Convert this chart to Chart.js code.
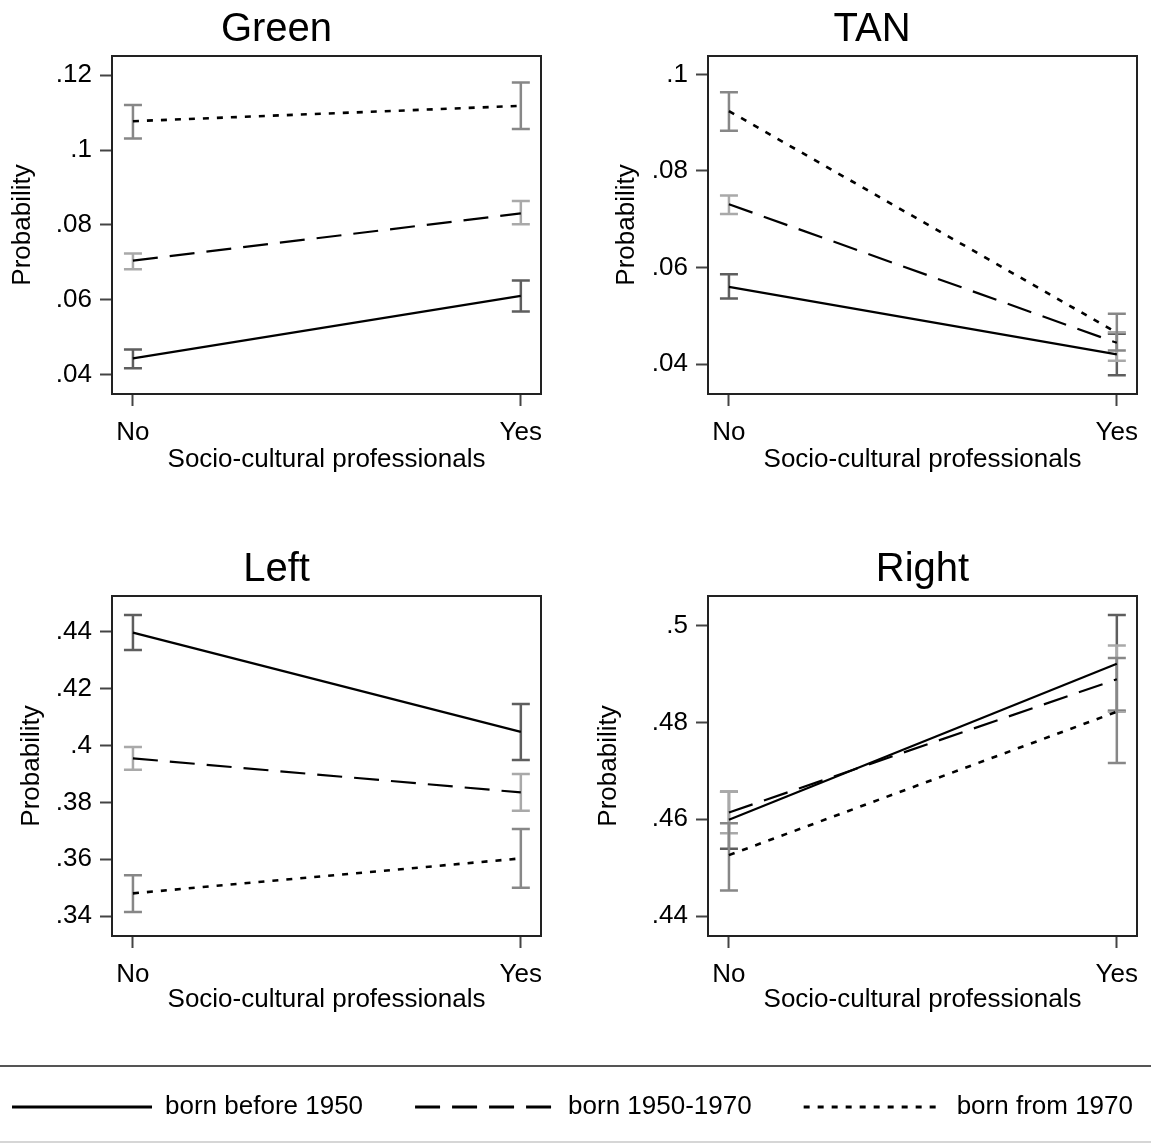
<!DOCTYPE html>
<html>
<head>
<meta charset="utf-8">
<title>Probability by socio-cultural professionals</title>
<script src="https://cdn.jsdelivr.net/npm/chart.js@4.4.1/dist/chart.umd.min.js"></script>
<style>
  body { margin: 0; background: #fff; }
  #page { position: relative; width: 1151px; height: 1144px; overflow: hidden; background: #fff; }
  #page canvas { position: absolute; }
  #legend-frame {
    position: absolute; left: 0; top: 1065px; width: 1151px; height: 74px;
    border-top: 2px solid #555; border-bottom: 2px solid #d6d6d6;
  }
</style>
</head>
<body>
<div id="page">
  <div id="legend-frame"></div>
  <canvas id="green-chart" width="553" height="480" style="left:0;top:0"></canvas>
  <canvas id="tan-chart" width="558" height="480" style="left:593px;top:0"></canvas>
  <canvas id="left-chart" width="553" height="482" style="left:0;top:540px"></canvas>
  <canvas id="right-chart" width="558" height="482" style="left:593px;top:540px"></canvas>
  <canvas id="legend-chart" width="1231" height="170" style="left:-43px;top:1042px"></canvas>
</div>
<script>
// x categories and cohorts
const categories = ['No', 'Yes'];
const cohortLabels = ['born before 1950', 'born 1950-1970', 'born from 1970'];

// predicted probabilities [cohort][category], with 95% CI bounds
const greenMean = [[0.0444, 0.0611], [0.0705, 0.0831], [0.1077, 0.1118]];
const greenLow  = [[0.0418, 0.0569], [0.0682, 0.0802], [0.1031, 0.1056]];
const greenHigh = [[0.0468, 0.0652], [0.0724, 0.0864], [0.1120, 0.1180]];
const greenTicks = [0.04, 0.06, 0.08, 0.1, 0.12];

const tanMean = [[0.0560, 0.0420], [0.0731, 0.0444], [0.0924, 0.0465]];
const tanLow  = [[0.0536, 0.0377], [0.0711, 0.0407], [0.0883, 0.0428]];
const tanHigh = [[0.0586, 0.0463], [0.0749, 0.0466], [0.0963, 0.0504]];
const tanTicks = [0.04, 0.06, 0.08, 0.1];

const leftMean = [[0.4397, 0.4048], [0.3955, 0.3835], [0.3480, 0.3603]];
const leftLow  = [[0.4336, 0.3949], [0.3915, 0.3771], [0.3414, 0.3500]];
const leftHigh = [[0.4459, 0.4146], [0.3995, 0.3900], [0.3544, 0.3706]];
const leftTicks = [0.34, 0.36, 0.38, 0.4, 0.42, 0.44];

const rightMean = [[0.4599, 0.4921], [0.4614, 0.4889], [0.4526, 0.4822]];
const rightLow  = [[0.4539, 0.4824], [0.4571, 0.4822], [0.4453, 0.4716]];
const rightHigh = [[0.4657, 0.5022], [0.4657, 0.4959], [0.4592, 0.4933]];
const rightTicks = [0.44, 0.46, 0.48, 0.5];

const FONT = "'Liberation Sans', Arial, sans-serif";
const lineDashes = [[], [25, 12], [6, 8]];
const ciColors = ['#5e5e5e', '#a9a9a9', '#878787'];

// draws the CI caps behind the lines
function makeErrorBars(low, high) {
    return {
        id: 'errorBars',
        beforeDatasetsDraw(chart) {
            const { ctx, scales: { x, y } } = chart;
            ctx.save();
            ctx.lineWidth = 2.5;
            low.forEach((series, k) => {
                ctx.strokeStyle = ciColors[k];
                series.forEach((lo, i) => {
                    const px = x.getPixelForValue(i);
                    const yLo = y.getPixelForValue(lo);
                    const yHi = y.getPixelForValue(high[k][i]);
                    ctx.beginPath();
                    ctx.moveTo(px, yLo); ctx.lineTo(px, yHi);
                    ctx.moveTo(px - 9, yLo); ctx.lineTo(px + 9, yLo);
                    ctx.moveTo(px - 9, yHi); ctx.lineTo(px + 9, yHi);
                    ctx.stroke();
                });
            });
            ctx.restore();
        }
    };
}

// full box around the plot region
const framePlugin = {
    id: 'frame',
    afterDatasetsDraw(chart) {
        const { ctx, chartArea: a } = chart;
        ctx.save();
        ctx.strokeStyle = '#222';
        ctx.lineWidth = 2;
        ctx.strokeRect(a.left, a.top, a.right - a.left, a.bottom - a.top);
        ctx.restore();
    }
};

function makePanel(id, cfg) {
    return new Chart(document.getElementById(id), {
        type: 'line',
        data: {
            datasets: cohortLabels.map((label, k) => ({
                label,
                data: categories.map((c, i) => ({ x: i, y: cfg.mean[k][i] })),
                borderColor: '#000',
                borderWidth: k === 2 ? 2.6 : 2.2,
                borderDash: lineDashes[k],
                pointRadius: 0,
                tension: 0,
                fill: false
            }))
        },
        options: {
            responsive: false,
            animation: false,
            devicePixelRatio: 1,
            layout: { padding: { left: cfg.padLeft, right: cfg.padRight, top: 0, bottom: 0 } },
            plugins: {
                legend: { display: false },
                tooltip: { enabled: false },
                title: {
                    display: true,
                    text: cfg.title,
                    fullSize: cfg.titleFull,
                    color: '#000',
                    font: { family: FONT, size: 40, weight: 'normal' },
                    padding: { top: 6, bottom: 2 }
                }
            },
            scales: {
                x: {
                    type: 'linear',
                    min: -0.054,
                    max: 1.052,
                    afterBuildTicks: s => { s.ticks = categories.map((c, i) => ({ value: i })); },
                    afterFit: s => { s.height = 86; s.paddingLeft = 0; s.paddingRight = 0; },
                    border: { display: false },
                    grid: { drawOnChartArea: false, tickLength: 12, tickWidth: 2, tickColor: '#444' },
                    ticks: {
                        callback: (v, i) => categories[i],
                        color: '#000',
                        font: { family: FONT, size: 26 },
                        padding: 11,
                        maxRotation: 0,
                        autoSkip: false
                    },
                    title: {
                        display: true,
                        text: 'Socio-cultural professionals',
                        color: '#000',
                        font: { family: FONT, size: 26 },
                        padding: { top: 0, bottom: cfg.xTitlePad }
                    }
                },
                y: {
                    min: cfg.yMin,
                    max: cfg.yMax,
                    afterBuildTicks: s => { s.ticks = cfg.ticks.map(v => ({ value: v })); },
                    afterFit: s => { s.width = cfg.yWidth; s.paddingTop = 0; s.paddingBottom = 0; },
                    border: { display: false },
                    grid: { drawOnChartArea: false, tickLength: 12, tickWidth: 2, tickColor: '#444' },
                    ticks: {
                        callback: v => String(v).replace(/^0\./, '.'),
                        color: '#000',
                        font: { family: FONT, size: 26 },
                        padding: 8
                    },
                    title: {
                        display: true,
                        text: 'Probability',
                        color: '#000',
                        font: { family: FONT, size: 26 },
                        padding: { top: cfg.yTitlePad, bottom: 0 }
                    }
                }
            }
        },
        plugins: [makeErrorBars(cfg.low, cfg.high), framePlugin]
    });
}

makePanel('green-chart', {
    title: 'Green', mean: greenMean, low: greenLow, high: greenHigh, ticks: greenTicks,
    yMin: 0.0349, yMax: 0.1251, padLeft: 12, padRight: 12, yWidth: 100, yTitlePad: -5,
    xTitlePad: 5, titleFull: true
});
makePanel('tan-chart', {
    title: 'TAN', mean: tanMean, low: tanLow, high: tanHigh, ticks: tanTicks,
    yMin: 0.0338, yMax: 0.1038, padLeft: 14, padRight: 14, yWidth: 101, yTitlePad: 4,
    xTitlePad: 5, titleFull: true
});
makePanel('left-chart', {
    title: 'Left', mean: leftMean, low: leftLow, high: leftHigh, ticks: leftTicks,
    yMin: 0.333, yMax: 0.4526, padLeft: 12, padRight: 12, yWidth: 100, yTitlePad: 4,
    xTitlePad: 7, titleFull: true
});
makePanel('right-chart', {
    title: 'Right', mean: rightMean, low: rightLow, high: rightHigh, ticks: rightTicks,
    yMin: 0.4359, yMax: 0.5061, padLeft: 0, padRight: 14, yWidth: 115, yTitlePad: 0,
    xTitlePad: 7, titleFull: false
});

// shared legend along the bottom
new Chart(document.getElementById('legend-chart'), {
    type: 'line',
    data: {
        datasets: cohortLabels.map((label, k) => ({
            label, data: [], borderColor: '#000', borderWidth: 3, borderDash: lineDashes[k]
        }))
    },
    options: {
        responsive: false,
        animation: false,
        devicePixelRatio: 1,
        scales: { x: { display: false }, y: { display: false } },
        plugins: {
            tooltip: { enabled: false },
            legend: {
                display: true,
                position: 'top',
                align: 'center',
                labels: {
                    usePointStyle: true,
                    pointStyle: 'line',
                    pointStyleWidth: 140,
                    boxHeight: 10,
                    padding: 52,
                    color: '#000',
                    font: { family: FONT, size: 26 },
                    generateLabels: chart => chart.data.datasets.map((ds, i) => ({
                        text: ds.label,
                        strokeStyle: '#000',
                        fillStyle: '#000',
                        fontColor: '#000',
                        lineWidth: 3,
                        lineDash: ds.borderDash,
                        lineCap: 'butt',
                        pointStyle: 'line',
                        hidden: false,
                        datasetIndex: i
                    }))
                }
            }
        }
    }
});
</script>
</body>
</html>
